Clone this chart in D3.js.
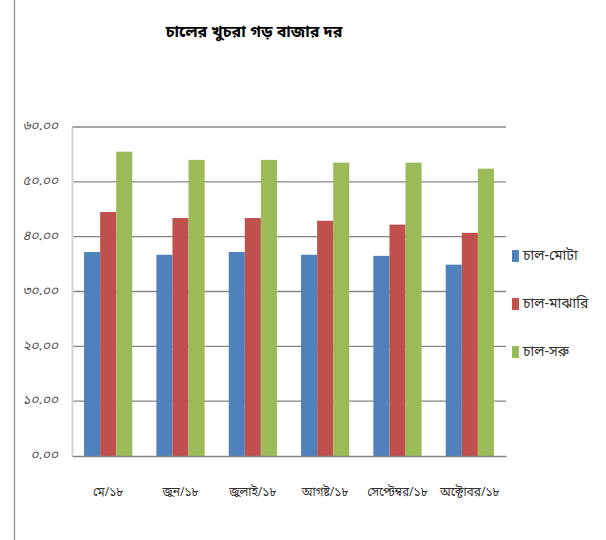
<!DOCTYPE html>
<html>
<head>
<meta charset="utf-8">
<script src="https://cdn.jsdelivr.net/npm/d3@7"></script>
<style>
body { margin: 0; background: #fff; }
svg { display: block; }
</style>
</head>
<body>
<svg id="chart" width="606" height="540"></svg>
<script>
// data
const months = ["মে/১৮", "জুন/১৮", "জুলাই/১৮", "আগষ্ট/১৮", "সেপ্টেম্বর/১৮", "অক্টোবর/১৮"];
const seriesNames = ["চাল-মোটা", "চাল-মাঝারি", "চাল-সরু"];
const coarse = [37.2, 36.7, 37.2, 36.7, 36.5, 34.9];
const medium = [44.5, 43.4, 43.4, 42.9, 42.2, 40.7];
const fine = [55.5, 54.0, 54.0, 53.5, 53.5, 52.4];
const yTicks = [0, 10, 20, 30, 40, 50, 60];
const colors = ["#4f81bd", "#c0504d", "#9bbb59"];

const bnDigits = "০১২৩৪৫৬৭৮৯";
const toBn = s => s.replace(/[0-9]/g, c => bnDigits[+c]);

const svg = d3.select("#chart");
const font = "'Noto Sans Bengali', 'Noto Sans', sans-serif";

const plotLeft = 72, plotRight = 506, plotTop = 127, plotBottom = 456;

// frame line at the left edge
svg.append("line")
    .attr("x1", 14.5).attr("x2", 14.5)
    .attr("y1", 0).attr("y2", 540)
    .attr("stroke", "#a0a0a0").attr("stroke-width", 1.5);

const x0 = d3.scaleBand()
    .domain(months)
    .range([plotLeft, plotRight])
    .paddingInner(1.5 / 4.5)
    .paddingOuter(0.75 / 4.5);

const x1 = d3.scaleBand()
    .domain(seriesNames)
    .range([0, x0.bandwidth()]);

const y = d3.scaleLinear()
    .domain([0, 60])
    .range([plotBottom, plotTop]);

// gridlines
svg.append("g")
    .selectAll("line")
    .data(yTicks.filter(d => d > 0))
    .enter()
    .append("line")
    .attr("x1", plotLeft).attr("x2", plotRight)
    .attr("y1", d => y(d)).attr("y2", d => y(d))
    .attr("stroke", "#868686").attr("stroke-width", 1.3);

// bars
const seriesData = [coarse, medium, fine];
const groups = svg.append("g")
    .selectAll("g")
    .data(seriesData)
    .enter()
    .append("g")
    .attr("fill", (d, i) => colors[i]);

groups.selectAll("rect")
    .data((d, i) => d.map((v, j) => ({v: v, m: months[j], s: seriesNames[i]})))
    .enter()
    .append("rect")
    .attr("x", d => x0(d.m) + x1(d.s))
    .attr("width", x1.bandwidth())
    .attr("y", d => y(d.v))
    .attr("height", d => y(0) - y(d.v));

// y axis
const yAxis = svg.append("g")
    .attr("transform", `translate(${plotLeft},0)`)
    .call(d3.axisLeft(y).tickValues(yTicks).tickSize(0).tickPadding(14)
        .tickFormat(d => toBn(d3.format(".2f")(d))));
yAxis.select(".domain").attr("stroke", "#d4d4d4").attr("stroke-width", 2);
yAxis.selectAll("text")
    .attr("font-family", font).attr("font-size", 13.5)
    .attr("font-style", "italic")
    .attr("dy", "0.2em")
    .attr("fill", "#555");

// x axis
const xAxis = svg.append("g")
    .attr("transform", `translate(0,${plotBottom})`)
    .call(d3.axisBottom(x0).tickSize(0).tickPadding(31));
xAxis.select(".domain").attr("stroke", "#868686").attr("stroke-width", 1.5);
xAxis.selectAll("text")
    .attr("font-family", font).attr("font-size", 12)
    .attr("fill", "#333");

// title
svg.append("text")
    .attr("x", 254).attr("y", 37)
    .attr("text-anchor", "middle")
    .attr("font-family", font).attr("font-size", 16)
    .attr("font-weight", "bold")
    .attr("fill", "#000")
    .text("চালের খুচরা গড় বাজার দর");

// legend
const legend = svg.append("g")
    .selectAll("g")
    .data(seriesNames)
    .enter()
    .append("g")
    .attr("transform", (d, i) => `translate(512,${250 + i * 48})`);
legend.append("rect")
    .attr("width", 7).attr("height", 12)
    .attr("fill", (d, i) => colors[i]);
legend.append("text")
    .attr("x", 11).attr("y", 10)
    .attr("font-family", font).attr("font-size", 14)
    .attr("fill", "#333")
    .text(d => d);
</script>
</body>
</html>
